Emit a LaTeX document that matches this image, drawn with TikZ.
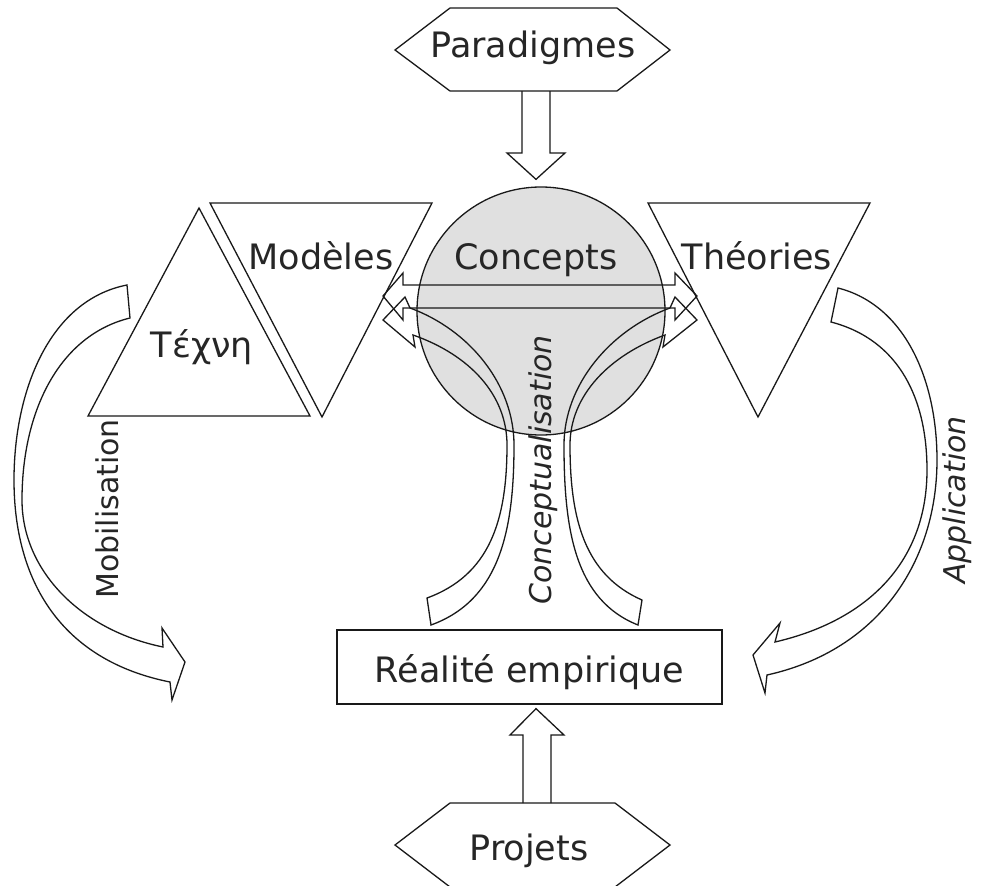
\documentclass[tikz,border=0pt]{standalone}
\usepackage{fontspec}
\setmainfont{DejaVu Sans}
\usetikzlibrary{calc}
\tikzset{line/.style={line width=1.3pt,black!90,line join=miter,}}
\tikzset{big label/.style={font=\fontsize{35}{40}\selectfont,inner sep=0pt,anchor=base,black!85,}}
\tikzset{side label/.style={font=\fontsize{30}{36}\selectfont\itshape,inner sep=0pt,rotate=90,black!85,}}
\tikzset{block/.style={line,fill=none,}}

\begin{document}
\begin{tikzpicture}[x=1pt,y=-1pt]
\useasboundingbox (0,0) rectangle (983,886);

% cercle des concepts
\node[circle,draw,line,fill=black!12,minimum size=248pt,inner sep=0pt](circ) at(541,311) {};

% triangles
\draw[line] (199,208) -- (310,416) -- (88,416) -- cycle;
\draw[line] (210,203) -- (432,203) -- (322,417) -- cycle;
\draw[line] (648,203) -- (870,203) -- (758,417) -- cycle;

% hexagones et boite
\draw[line] (395,50) -- (450,8) -- (617,8) -- (670,50) -- (617,91) -- (450,91) -- cycle;
\draw[line] (395,845) -- (450,803) -- (615,803) -- (670,845) -- (615,887) -- (450,887) -- cycle;
\node[draw,line,minimum width=385pt,minimum height=74pt,inner sep=0pt](real) at(529.5,667) {};

\node[big label](tech) at(202,357) {Τέχνη};
\node[big label](mod) at(321,269) {Modèles};
\node[big label](conc) at(536,269) {Concepts};
\node[big label](theo) at(757,269) {Théories};
\node[big label](para) at(533,57) {Paradigmes};
\node[big label](proj) at(529,860) {Projets};
\node[big label] at(real.center) [yshift=-15pt] {Réalité empirique};

\coordinate(paraB) at(536,91);
\coordinate(projT) at(537,803);

% fleches droites
\draw[block] ($(paraB)+(-14,0)$) -- ++(0,62) -- ++(-15,0) -- ($(circ.north)+(-5,-7)$)
	-- ($(paraB)+(29,62)$) -- ++(-15,0) -- ($(paraB)+(14,0)$);
\draw[block] ($(projT)+(-14,0)$) -- ++(0,-68) -- ++(-13,0) -- ($(real.south)+(6.5,4)$)
	-- ($(projT)+(27,-68)$) -- ++(-13,0) -- ($(projT)+(14,0)$);

% fleche double horizontale
\draw[block] (403,285) -- (675,285) -- (675,273) -- (697,296) -- (675,320) -- (675,308)
	-- (403,308) -- (403,320) -- (383,296) -- (403,273) -- cycle;

% conceptualisation
\draw[block] (427,598) .. controls (490,575) and (507,520) .. (507,445)
	.. controls (507,395) and (470,355) .. (413,335) -- (415,347) -- (383,320) -- (405,297) -- (410,308)
	.. controls (470,330) and (514,385) .. (514,445) .. controls (514,530) and (500,600) .. (431,625) -- cycle;
\draw[block] (642,600) .. controls (585,575) and (570,520) .. (570,445)
	.. controls (570,395) and (610,355) .. (665,335) -- (663,347) -- (697,320) -- (675,297) -- (670,308)
	.. controls (610,330) and (564,385) .. (564,445) .. controls (564,530) and (575,600) .. (638,625) -- cycle;

% mobilisation
\draw[block] (127,285) .. controls (50,300) and (14,390) .. (14,480) .. controls (14,580) and (60,660) .. (170,682)
	-- (172,700) -- (185,662) -- (162,628) -- (163,647)
	.. controls (80,630) and (22,570) .. (22,500) .. controls (22,410) and (60,335) .. (130,318) -- cycle;

% application
\draw[block] (838,288) .. controls (905,305) and (937,380) .. (937,460) .. controls (937,560) and (880,650) .. (767,675)
	-- (765,693) -- (753,655) -- (780,623) -- (775,642)
	.. controls (870,620) and (927,560) .. (927,470) .. controls (927,400) and (900,340) .. (831,322) -- cycle;

\node[side label](lconc) at(543,470) {Conceptualisation};
\node[side label](lappl) at(957,500) {Application};
\node[side label,font=\fontsize{30}{36}\selectfont\upshape](lmob) at(107,509) {Mobilisation};

\end{tikzpicture}
\end{document}
